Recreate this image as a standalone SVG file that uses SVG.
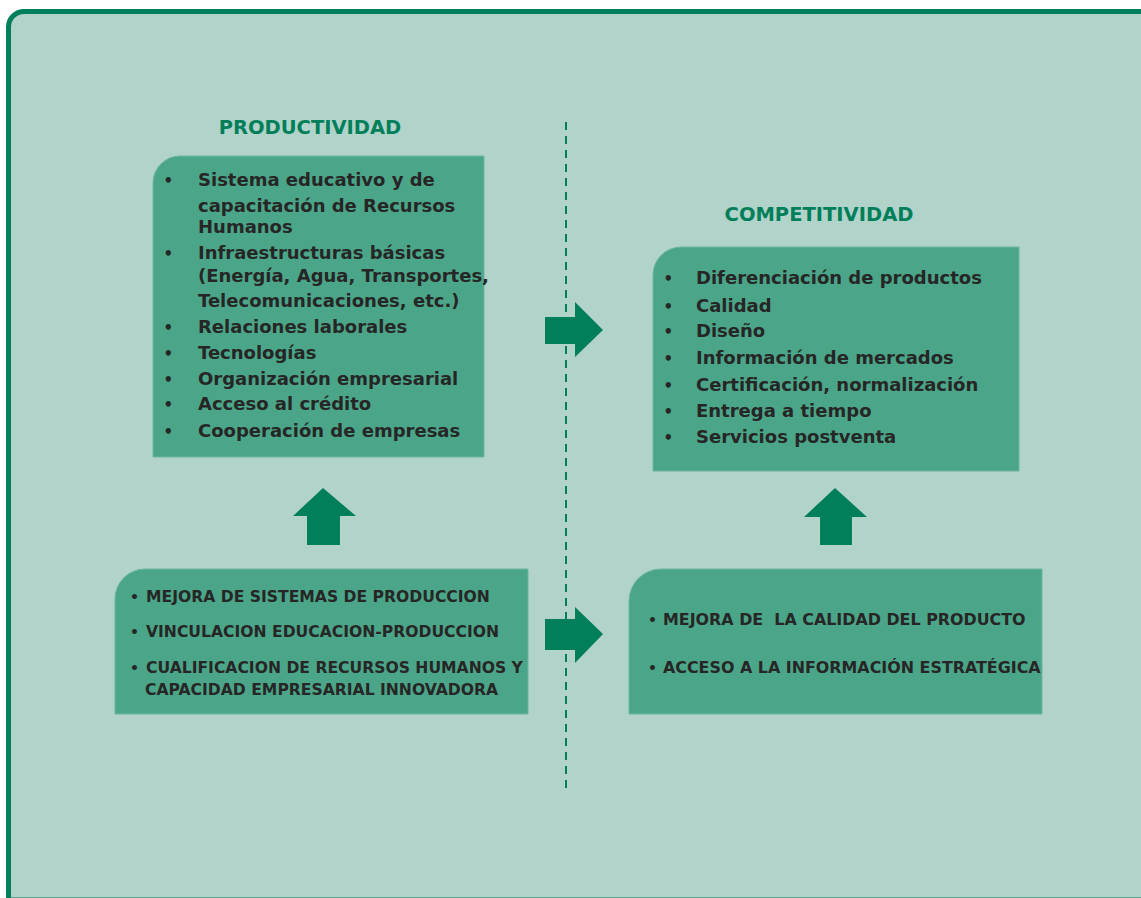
<svg xmlns="http://www.w3.org/2000/svg" width="1141" height="898" viewBox="0 0 1141 898">
<style>
.box{fill:#4ba689;stroke:#6cb79c;stroke-width:1}
.arrow{fill:#007f5a}
.title{font-family:"DejaVu Sans",Verdana,sans-serif;font-weight:bold;font-size:19.5px;fill:#007f5a}
.t{font-family:"DejaVu Sans",Verdana,sans-serif;font-weight:bold;font-size:18px;fill:#262626}
.b{font-family:"DejaVu Sans",Verdana,sans-serif;font-weight:bold;font-size:15.6px;fill:#262626}
.br{font-size:15.9px}
.dot{font-size:15px}
.sdot{font-size:14px}
</style>
<rect x="0" y="0" width="1141" height="898" fill="#ffffff"/>
<path d="M8.5,900 V27 A15.5,15.5 0 0 1 24,11.5 H1145 V900 Z" fill="#b1d3c9" stroke="#007f5a" stroke-width="5"/>

<g id="connectors">
<line x1="566" y1="122" x2="566" y2="794" stroke="#007f5a" stroke-width="2" stroke-dasharray="8 6"/>
<polygon class="arrow" points="307,545 307,516 293,516 323,488 356,516 340,516 340,545"/>
<polygon class="arrow" points="820,545 820,517 804,517 835,488 867,517 852,517 852,545"/>
<polygon class="arrow" points="545,317 575,317 575,302 603,330 575,357 575,344 545,344"/>
<polygon class="arrow" points="545,619 575,619 575,607 603,634 575,663 575,650 545,650"/>
</g>

<g id="title-productividad">
<text class="title" x="310" y="134" text-anchor="middle">PRODUCTIVIDAD</text>
</g>
<g id="title-competitividad">
<text class="title" x="819" y="221" text-anchor="middle">COMPETITIVIDAD</text>
</g>

<g id="productividad">
<path class="box" d="M153,457 V183 A27,27 0 0 1 180,156 H484 V457 Z"/>
<g class="t">
<text class="dot" x="163.5" y="186">•</text>
<text x="198" y="186">Sistema educativo y de</text>
<text x="198" y="212">capacitación de Recursos</text>
<text x="198" y="233">Humanos</text>
<text class="dot" x="163.5" y="259">•</text>
<text x="198" y="259">Infraestructuras básicas</text>
<text x="198" y="282">(Energía, Agua, Transportes,</text>
<text x="198" y="307">Telecomunicaciones, etc.)</text>
<text class="dot" x="163.5" y="333">•</text>
<text x="198" y="333">Relaciones laborales</text>
<text class="dot" x="163.5" y="359">•</text>
<text x="198" y="359">Tecnologías</text>
<text class="dot" x="163.5" y="385">•</text>
<text x="198" y="385">Organización empresarial</text>
<text class="dot" x="163.5" y="410">•</text>
<text x="198" y="410">Acceso al crédito</text>
<text class="dot" x="163.5" y="437">•</text>
<text x="198" y="437">Cooperación de empresas</text>
</g>
</g>

<g id="competitividad">
<path class="box" d="M653,471 V275 A28,28 0 0 1 681,247 H1019 V471 Z"/>
<g class="t">
<text class="dot" x="663.5" y="284">•</text>
<text x="696" y="284">Diferenciación de productos</text>
<text class="dot" x="663.5" y="312">•</text>
<text x="696" y="312">Calidad</text>
<text class="dot" x="663.5" y="337">•</text>
<text x="696" y="337">Diseño</text>
<text class="dot" x="663.5" y="364">•</text>
<text x="696" y="364">Información de mercados</text>
<text class="dot" x="663.5" y="391">•</text>
<text x="696" y="391">Certificación, normalización</text>
<text class="dot" x="663.5" y="417">•</text>
<text x="696" y="417">Entrega a tiempo</text>
<text class="dot" x="663.5" y="443">•</text>
<text x="696" y="443">Servicios postventa</text>
</g>
</g>

<g id="mejora-produccion">
<path class="box" d="M115,714 V599 A30,30 0 0 1 145,569 H528 V714 Z"/>
<g class="b">
<text class="sdot" x="130" y="602">•</text>
<text x="146" y="602">MEJORA DE SISTEMAS DE PRODUCCION</text>
<text class="sdot" x="130" y="637">•</text>
<text x="146" y="637">VINCULACION EDUCACION-PRODUCCION</text>
<text class="sdot" x="130" y="673">•</text>
<text x="146" y="673">CUALIFICACION DE RECURSOS HUMANOS Y</text>
<text x="145" y="695">CAPACIDAD EMPRESARIAL INNOVADORA</text>
</g>
</g>

<g id="mejora-calidad">
<path class="box" d="M629,714 V601 A32,32 0 0 1 661,569 H1042 V714 Z"/>
<g class="b">
<text class="sdot" x="648" y="625">•</text>
<text class="br" x="663" y="625" xml:space="preserve">MEJORA DE  LA CALIDAD DEL PRODUCTO</text>
<text class="sdot" x="648" y="673">•</text>
<text class="br" x="663" y="673">ACCESO A LA INFORMACIÓN ESTRATÉGICA</text>
</g>
</g>
</svg>
